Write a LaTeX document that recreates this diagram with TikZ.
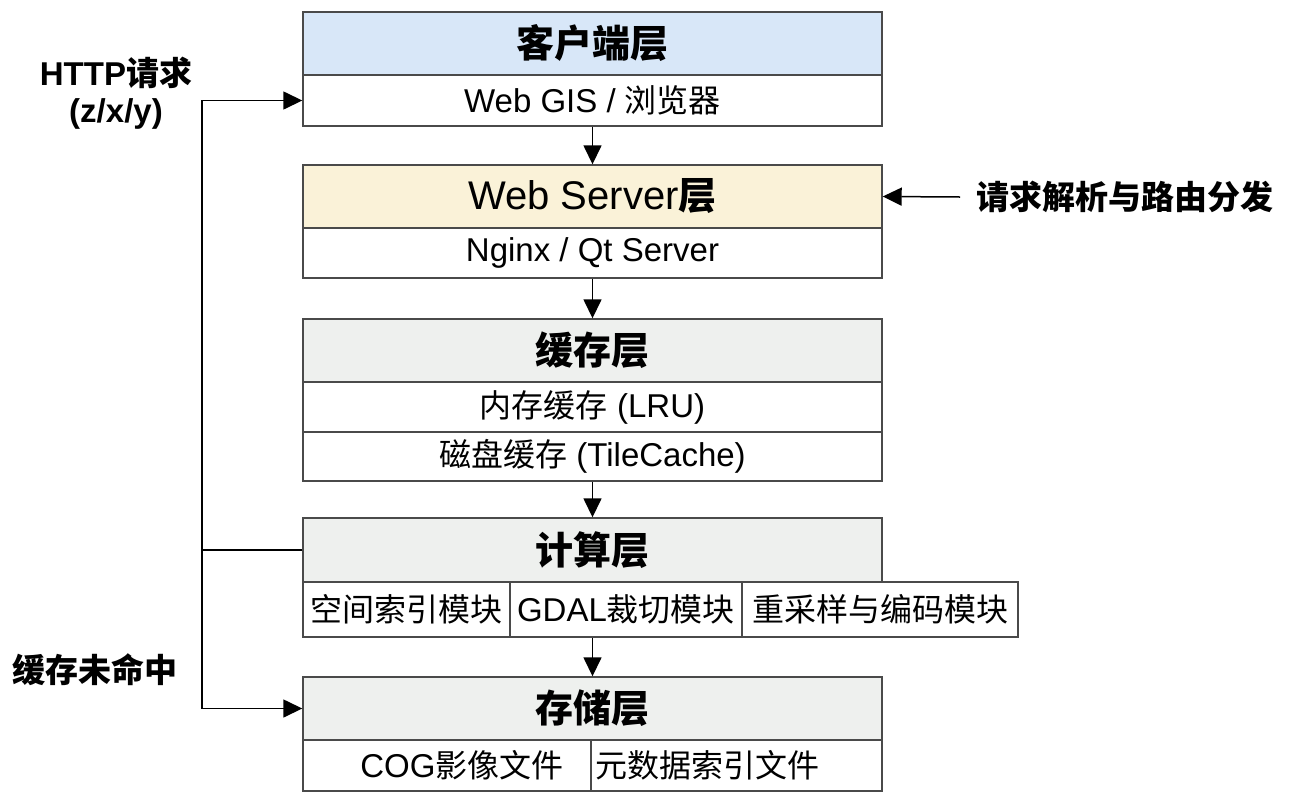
\documentclass[tikz,border=0pt]{standalone}
\usepackage{fontspec}
\setmainfont{Liberation Sans}
\newfontfamily\cjk{Noto Sans CJK SC}
\usetikzlibrary{arrows.meta}
\definecolor{bord}{HTML}{4A4A4A}
\definecolor{blueh}{HTML}{D8E7F8}
\definecolor{yellowh}{HTML}{FAF2D8}
\definecolor{grayh}{HTML}{EEF0EE}
\newcommand\zh[1]{{\cjk #1}}
\tikzset{
  cell/.style={draw=bord, line width=1.4pt, inner sep=0pt, anchor=center, fill=white},
  headtxt/.style={font=\fontsize{40}{42}\selectfont},
  subtxt/.style={font=\fontsize{33}{35}\selectfont},
  sidetxt/.style={font=\fontsize{33}{37}\selectfont\bfseries, align=center},
  arr/.style={-{Triangle[length=19pt,width=18pt]}, line width=1.5pt, draw=black},
  link/.style={line width=1.5pt, draw=black}
}
\newcommand\zhh[1]{{\cjk\fontsize{38}{40}\selectfont\bfseries #1}}
\newcommand\zs[1]{{\cjk\fontsize{32}{34}\selectfont #1}}
\begin{document}
\begin{tikzpicture}[x=1pt,y=-1pt]
\useasboundingbox (0,0) rectangle (1299,793);
% client layer
\node[cell, fill=blueh, minimum width=579pt, minimum height=63pt, headtxt] (c1h) at (592.5,43.5) {\zhh{客户端层}};
\node[cell, minimum width=579pt, minimum height=51pt, subtxt] (c1s) at (592.5,100.5) {Web GIS / \zs{浏览器}};
% web server layer
\node[cell, fill=yellowh, minimum width=579pt, minimum height=63pt, headtxt] (wh) at (592.5,196.5) {Web Server\zhh{层}};
\node[cell, minimum width=579pt, minimum height=50pt, subtxt] (ws) at (592.5,253) {Nginx / Qt Server};
% cache layer
\node[cell, fill=grayh, minimum width=579pt, minimum height=63pt, headtxt] (kh) at (592.5,350.5) {\zhh{缓存层}};
\node[cell, minimum width=579pt, minimum height=50pt, subtxt] (k1) at (592.5,407) {\zs{内存缓存} (LRU)};
\node[cell, minimum width=579pt, minimum height=49pt, subtxt] (k2) at (592.5,456.5) {\zs{磁盘缓存} (TileCache)};
% compute layer
\node[cell, fill=grayh, minimum width=579pt, minimum height=64pt, headtxt] (ph) at (592.5,550) {\zhh{计算层}};
\node[cell, minimum width=207pt, minimum height=55pt, subtxt] (p1) at (406.5,609.5) {\zs{空间索引模块}};
\node[cell, minimum width=232pt, minimum height=55pt, subtxt] (p2) at (626,609.5) {GDAL\zs{裁切模块}};
\node[cell, minimum width=276pt, minimum height=55pt, subtxt] (p3) at (880,609.5) {\zs{重采样与编码模块}};
% storage layer
\node[cell, fill=grayh, minimum width=579pt, minimum height=63pt, headtxt] (sh) at (592.5,708.5) {\zhh{存储层}};
\node[cell, minimum width=288pt, minimum height=51pt] (s1) at (447,765.5) {};
\node[cell, minimum width=291pt, minimum height=51pt] (s2) at (736.5,765.5) {};
\node[subtxt, inner sep=0pt] (s1t) at (462,765.5) {COG\zs{影像文件}};
\node[subtxt, inner sep=0pt] (s2t) at (707,765.5) {\zs{元数据索引文件}};
% vertical arrows
\draw[arr] (c1s.south) -- (wh.north);
\draw[arr] (ws.south) -- (kh.north);
\draw[arr] (k2.south) -- (ph.north);
\draw[arr] (p2.south -| ph.south) -- (sh.north);
% left feedback connector
\coordinate (L) at (202,550);
\draw[link] (ph.west) -- (L);
\draw[arr] (L) |- (c1s.west);
\draw[arr] (L) |- (sh.west);
% right arrow
\coordinate (R) at (960,197);
\draw[arr] (R) -- (wh.east);
% side labels
\node[sidetxt, anchor=west] (rl) at (973,197) {\zh{请求解析与路由分发}};
\node[sidetxt] (hl) at (116,93) {HTTP\zh{请求}\\(z/x/y)};
\node[sidetxt] (ml) at (95,670) {\zh{缓存未命中}};
\end{tikzpicture}
\end{document}
